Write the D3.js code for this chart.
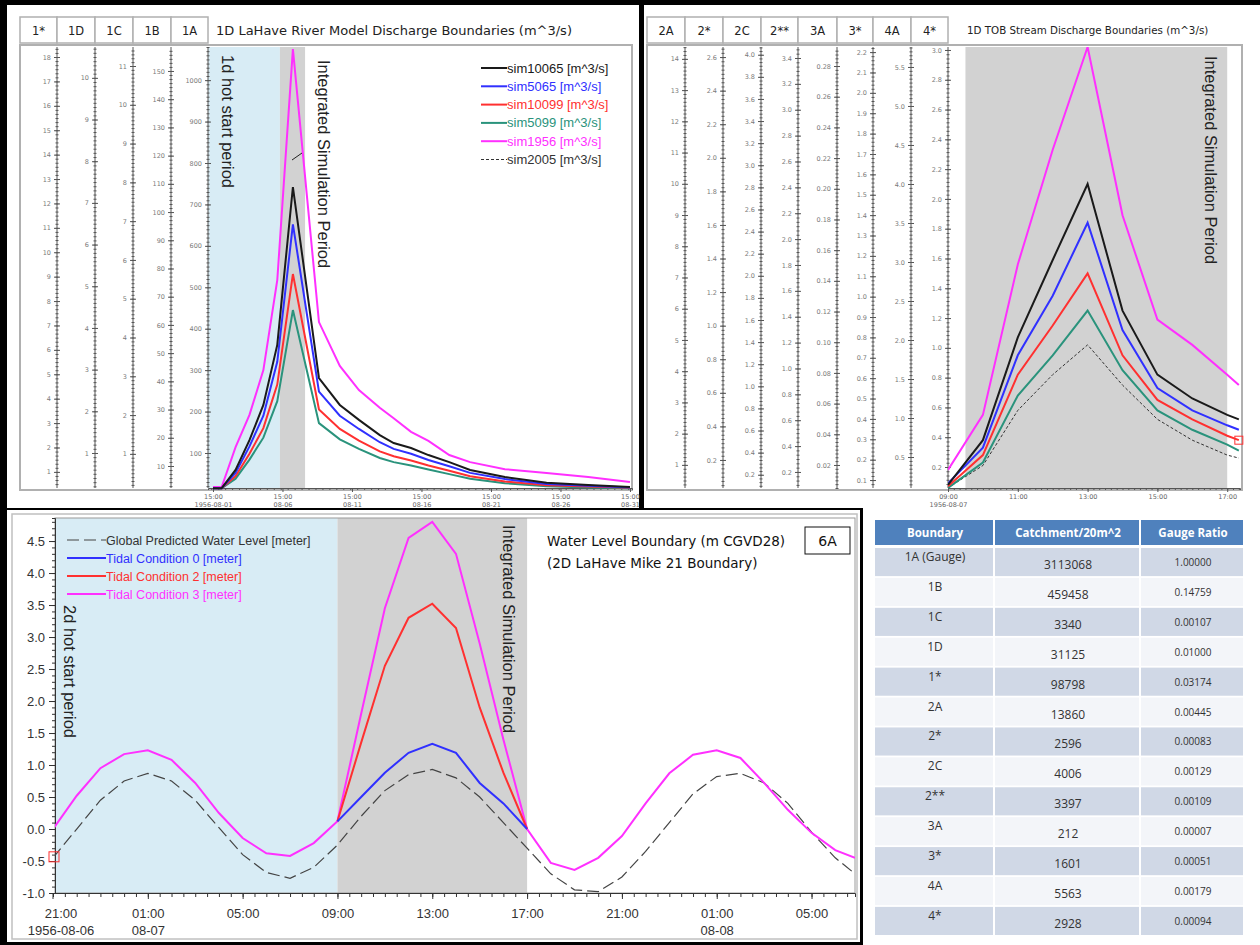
<!DOCTYPE html>
<html>
<head>
<meta charset="utf-8">
<script src="https://cdn.jsdelivr.net/npm/d3@7"></script>
<style>
  body { margin: 0; background: #fff; }
  svg { display: block; font-family: "Liberation Sans", Arial, sans-serif; }
</style>
</head>
<body>
<svg id="chart" width="1260" height="945"></svg>
<script>
(function () {
  'use strict';

  /* ── 1D LaHave River discharge (values on the 1A axis, m^3/s) ── */
  var riverTimes = ['1956-08-01 15:00', '1956-08-02 06:00', '1956-08-03 06:00', '1956-08-04 06:00',
    '1956-08-05 06:00', '1956-08-06 06:00', '1956-08-07 09:00', '1956-08-09 06:00', '1956-08-10 18:00',
    '1956-08-12 03:00', '1956-08-13 15:00', '1956-08-14 15:00', '1956-08-15 21:00', '1956-08-17 03:00',
    '1956-08-18 15:00', '1956-08-20 03:00', '1956-08-22 15:00', '1956-08-25 15:00', '1956-08-28 15:00',
    '1956-08-31 15:00'];
  var river10065 = [15, 15, 59, 131, 216, 361, 742, 281, 216, 180, 143, 124, 112, 95, 78, 59, 42, 28, 23, 18];
  var river5065  = [15, 15, 52, 116, 190, 320, 652, 248, 190, 158, 126, 110, 98, 83, 68, 52, 37, 25, 21, 17];
  var river10099 = [15, 15, 44, 98, 160, 265, 532, 205, 158, 130, 104, 92, 82, 70, 57, 44, 31, 22, 19, 16];
  var river5099  = [15, 15, 38, 84, 137, 225, 445, 172, 133, 110, 88, 78, 70, 60, 49, 38, 27, 20, 17, 15];
  var river1956  = [18, 18, 114, 192, 300, 517, 1075, 416, 310, 252, 209, 184, 151, 129, 95, 78, 61, 52, 42, 30];

  /* ── 1D TOB stream discharge (values on the 4* axis, m^3/s) ── */
  var tobTimes = ['1956-08-07 09:00', '1956-08-07 10:00', '1956-08-07 11:00', '1956-08-07 12:00',
    '1956-08-07 13:00', '1956-08-07 14:00', '1956-08-07 15:00', '1956-08-07 16:00', '1956-08-07 17:00',
    '1956-08-07 17:20'];
  var tob10065 = [0.08, 0.38, 1.07, 1.59, 2.10, 1.25, 0.82, 0.66, 0.55, 0.52];
  var tob5065  = [0.09, 0.33, 0.95, 1.35, 1.84, 1.12, 0.73, 0.58, 0.48, 0.45];
  var tob10099 = [0.07, 0.28, 0.82, 1.15, 1.50, 0.95, 0.65, 0.52, 0.41, 0.38];
  var tob5099  = [0.06, 0.23, 0.68, 0.95, 1.25, 0.85, 0.58, 0.45, 0.35, 0.31];
  var tob1956  = [0.18, 0.55, 1.56, 2.33, 3.02, 1.89, 1.19, 1.02, 0.82, 0.75];
  var tob2005  = [0.06, 0.21, 0.58, 0.82, 1.02, 0.75, 0.52, 0.38, 0.28, 0.26];

  /* ── Water level boundary (m CGVD28) ── */
  var tideTimes = ['1956-08-06 21:00', '1956-08-06 22:00', '1956-08-06 23:00', '1956-08-07 00:00',
    '1956-08-07 01:00', '1956-08-07 02:00', '1956-08-07 03:00', '1956-08-07 04:00', '1956-08-07 05:00',
    '1956-08-07 06:00', '1956-08-07 07:00', '1956-08-07 08:00', '1956-08-07 09:00', '1956-08-07 10:00',
    '1956-08-07 11:00', '1956-08-07 12:00', '1956-08-07 13:00', '1956-08-07 14:00', '1956-08-07 15:00',
    '1956-08-07 16:00', '1956-08-07 17:00', '1956-08-07 18:00', '1956-08-07 19:00', '1956-08-07 20:00',
    '1956-08-07 21:00', '1956-08-07 22:00', '1956-08-07 23:00', '1956-08-08 00:00', '1956-08-08 01:00',
    '1956-08-08 02:00', '1956-08-08 03:00', '1956-08-08 04:00', '1956-08-08 05:00', '1956-08-08 06:00',
    '1956-08-08 06:50'];
  var tideGlobal = [-0.45, 0.0, 0.45, 0.75, 0.87, 0.75, 0.45, 0.02, -0.4, -0.68, -0.77, -0.6, -0.25,
    0.2, 0.6, 0.85, 0.93, 0.8, 0.5, 0.1, -0.3, -0.7, -0.95, -0.98, -0.75, -0.35, 0.1, 0.55, 0.82,
    0.87, 0.72, 0.4, -0.05, -0.45, -0.7];
  var tide3 = [0.0, 0.52, 0.95, 1.17, 1.23, 1.08, 0.72, 0.25, -0.14, -0.38, -0.42, -0.22, 0.12,
    1.8, 3.45, 4.55, 4.8, 4.3, 2.9, 1.4, 0.0, -0.53, -0.64, -0.45, -0.11, 0.4, 0.87, 1.16, 1.23,
    1.11, 0.72, 0.3, -0.06, -0.33, -0.45];
  var simTimes = ['1956-08-07 09:00', '1956-08-07 10:00', '1956-08-07 11:00', '1956-08-07 12:00',
    '1956-08-07 13:00', '1956-08-07 14:00', '1956-08-07 15:00', '1956-08-07 16:00', '1956-08-07 17:00'];
  var tide0 = [0.12, 0.5, 0.88, 1.19, 1.33, 1.19, 0.72, 0.4, 0.0];
  var tide2 = [0.12, 1.35, 2.55, 3.3, 3.52, 3.14, 1.9, 0.88, 0.0];

  /* ── Catchment table ── */
  var boundaries = ['1A (Gauge)', '1B', '1C', '1D', '1*', '2A', '2*', '2C', '2**', '3A', '3*', '4A', '4*'];
  var catchments = ['3113068', '459458', '3340', '31125', '98798', '13860', '2596', '4006', '3397',
    '212', '1601', '5563', '2928'];
  var ratios = ['1.00000', '0.14759', '0.00107', '0.01000', '0.03174', '0.00445', '0.00083', '0.00129',
    '0.00109', '0.00007', '0.00051', '0.00179', '0.00094'];

  /* ── Stacked boundary axes: name, visible range, tick step ── */
  var riverAxisNames = ['1*', '1D', '1C', '1B', '1A'];
  var riverAxisLo    = [0.34, 0.16, 0.12, 2.2, 15.5];
  var riverAxisHi    = [18.41, 10.74, 11.49, 158.5, 1080];
  var riverAxisStep  = [1, 1, 1, 10, 100];

  var tobAxisNames = ['2A', '2*', '2C', '2**', '3A', '3*', '4A', '4*'];
  var tobAxisLo    = [0.26, 0.033, 0.08, 0.076, 0.005, 0.061, 0.103, 0.059];
  var tobAxisHi    = [14.38, 2.66, 4.07, 3.485, 0.2924, 2.225, 5.756, 3.02];
  var tobAxisStep  = [1, 0.2, 0.2, 0.2, 0.02, 0.1, 0.5, 0.2];

  var simNames  = ['sim10065', 'sim5065', 'sim10099', 'sim5099', 'sim1956', 'sim2005'];
  var simColors = ['#1a1a1a', '#3030ff', '#ff3030', '#2a937c', '#ff30ff', '#333333'];

  var parse = d3.timeParse('%Y-%m-%d %H:%M');
  var svg = d3.select('#chart');
  var defs = svg.append('defs');

  svg.append('rect').attr('width', 1260).attr('height', 945).attr('fill', '#fff');

  function clip(id, x, y, w, h) {
    defs.append('clipPath').attr('id', id)
      .append('rect').attr('x', x).attr('y', y).attr('width', w).attr('height', h);
    return 'url(#' + id + ')';
  }

  function everyHours(start, step, n) {
    return d3.range(n).map(function (k) { return d3.timeHour.offset(parse(start), step * k); });
  }

  /* Header boxes + one vertical axis per boundary */
  function stackedAxes(g, names, lo, hi, step, edges, yTop, yBot) {
    names.forEach(function (name, i) {
      g.append('rect')
        .attr('x', edges[i]).attr('y', 17)
        .attr('width', edges[i + 1] - edges[i]).attr('height', 26)
        .attr('fill', '#fff').attr('stroke', '#b0b0b0').attr('stroke-width', 1.5);
      g.append('text')
        .attr('x', (edges[i] + edges[i + 1]) / 2).attr('y', 35)
        .attr('text-anchor', 'middle')
        .attr('font-family', 'DejaVu Sans, sans-serif')
        .attr('font-size', 11.5).attr('fill', '#222')
        .text(name);

      var s = d3.scaleLinear().domain([lo[i], hi[i]]).range([yBot, yTop]);
      var st = step[i];
      var dec = st < 0.1 ? 2 : (st < 1 ? 1 : 0);
      var px = Math.abs(s(st) - s(0));
      var nMinor = Math.max(2, Math.round(px / 4));
      var ms = st / nMinor;
      var minors = d3.range(Math.ceil(lo[i] / ms - 1e-9), Math.floor(hi[i] / ms + 1e-9) + 1)
        .map(function (k) { return k * ms; });
      var majors = d3.range(Math.ceil(lo[i] / st - 1e-9), Math.floor(hi[i] / st + 1e-9) + 1)
        .map(function (k) { return k * st; });

      var ax = g.append('g').attr('transform', 'translate(' + edges[i + 1] + ',0)');
      ax.append('line').attr('y1', yTop).attr('y2', yBot)
        .attr('stroke', '#555').attr('stroke-width', 1);

      var minorG = ax.append('g').call(d3.axisLeft(s).tickValues(minors).tickSize(0).tickFormat(''));
      minorG.select('.domain').remove();
      minorG.selectAll('.tick line').attr('x1', -1.5).attr('x2', 1.5).attr('stroke', '#555');

      var majorG = ax.append('g').call(d3.axisLeft(s).tickValues(majors).tickSize(0).tickPadding(6)
        .tickFormat(function (d) { return d.toFixed(dec); }));
      majorG.select('.domain').remove();
      majorG.selectAll('.tick line').attr('x1', -3).attr('x2', 3).attr('stroke', '#555');
      majorG.selectAll('.tick text').attr('font-size', 6.5).attr('fill', '#7a7a7a')
        .attr('font-family', 'DejaVu Sans, sans-serif');
    });
  }

  function simLine(g, x, y, times, values, color, dash, width, clipUrl) {
    var pts = times.map(function (t, k) { return [parse(t), values[k]]; });
    g.append('path')
      .attr('d', d3.line().x(function (d) { return x(d[0]); }).y(function (d) { return y(d[1]); })(pts))
      .attr('fill', 'none')
      .attr('stroke', color)
      .attr('stroke-width', width)
      .attr('stroke-dasharray', dash)
      .attr('clip-path', clipUrl);
  }

  function twoLineLabels(sel, fmtTop, fmtBottom, dy) {
    sel.selectAll('.tick text').each(function (d) {
      var t = d3.select(this);
      t.text(null);
      t.append('tspan').attr('x', 0).attr('dy', '0.71em').text(fmtTop(d));
      t.append('tspan').attr('x', 0).attr('dy', dy).text(fmtBottom(d));
    });
  }

  /* ── Outer black frame ── */
  var frame = svg.append('g').attr('fill', '#000');
  frame.append('rect').attr('x', 0).attr('y', 0).attr('width', 1260).attr('height', 5);
  frame.append('rect').attr('x', 0).attr('y', 0).attr('width', 7).attr('height', 945);
  frame.append('rect').attr('x', 639).attr('y', 0).attr('width', 5).attr('height', 510);
  frame.append('rect').attr('x', 0).attr('y', 508).attr('width', 863).attr('height', 2);
  frame.append('rect').attr('x', 860).attr('y', 508).attr('width', 3).attr('height', 437);
  frame.append('rect').attr('x', 0).attr('y', 942).attr('width', 863).attr('height', 3);

  /* ══ Top-left: 1D LaHave River ══ */
  var tl = svg.append('g');
  var tlEdges = [20, 57, 95, 133, 171, 208];
  var tlTop = 47, tlBot = 488, tlLeft = 208, tlRight = 632;

  var tlX = d3.scaleTime()
    .domain([parse('1956-08-01 06:24'), parse('1956-08-31 18:30')])
    .range([tlLeft, tlRight]);
  var tlY = d3.scaleLinear().domain([riverAxisLo[4], riverAxisHi[4]]).range([tlBot, tlTop]);

  tl.append('rect').attr('x', tlLeft).attr('y', tlTop)
    .attr('width', tlX(parse('1956-08-06 10:30')) - tlLeft).attr('height', tlBot - tlTop)
    .attr('fill', '#d8ecf5');
  tl.append('rect').attr('x', tlX(parse('1956-08-06 10:30'))).attr('y', tlTop)
    .attr('width', tlX(parse('1956-08-08 06:00')) - tlX(parse('1956-08-06 10:30')))
    .attr('height', tlBot - tlTop)
    .attr('fill', '#d2d2d2');

  tl.append('rect').attr('x', 20).attr('y', 45).attr('width', 612).attr('height', 445)
    .attr('fill', 'none').attr('stroke', '#b0b0b0').attr('stroke-width', 2);

  stackedAxes(tl, riverAxisNames, riverAxisLo, riverAxisHi, riverAxisStep, tlEdges, tlTop, tlBot);

  tl.append('text').attr('x', 216).attr('y', 35)
    .attr('font-family', 'DejaVu Sans, sans-serif').attr('font-size', 13).attr('fill', '#222')
    .text('1D LaHave River Model Discharge Boundaries (m^3/s)');

  var tlXMajor = everyHours('1956-08-01 15:00', 120, 7);
  var tlXAxis = tl.append('g').attr('transform', 'translate(0,' + tlBot + ')');
  tlXAxis.call(d3.axisBottom(tlX).ticks(d3.timeHour.every(12)).tickSize(2).tickFormat(''));
  tlXAxis.select('.domain').attr('stroke', '#555');
  tlXAxis.selectAll('.tick line').attr('stroke', '#555');
  var tlXLab = tl.append('g').attr('transform', 'translate(0,' + tlBot + ')');
  tlXLab.call(d3.axisBottom(tlX).tickValues(tlXMajor).tickSize(4).tickPadding(2)
    .tickFormat(d3.timeFormat('%H:%M')));
  tlXLab.select('.domain').remove();
  tlXLab.selectAll('.tick line').attr('stroke', '#555');
  tlXLab.selectAll('.tick text').attr('font-size', 6.5).attr('fill', '#666')
    .attr('font-family', 'DejaVu Sans, sans-serif');
  twoLineLabels(tlXLab, d3.timeFormat('%H:%M'), function (d) {
    return +d === +tlXMajor[0] ? d3.timeFormat('%Y-%m-%d')(d) : d3.timeFormat('%m-%d')(d);
  }, 8);

  var tlClip = clip('tlclip', tlLeft, tlTop, tlRight - tlLeft, tlBot - tlTop + 2);
  var riverSeries = [river10065, river5065, river10099, river5099, river1956];
  [4, 3, 2, 1, 0].forEach(function (k) {
    simLine(tl, tlX, tlY, riverTimes, riverSeries[k], simColors[k], null, 2, tlClip);
  });

  /* legend */
  var leg = tl.append('g').attr('transform', 'translate(481,68)');
  simNames.forEach(function (n, k) {
    var row = leg.append('g').attr('transform', 'translate(0,' + (k * 18.3) + ')');
    row.append('line').attr('x1', 0).attr('x2', 26).attr('y1', 0).attr('y2', 0)
      .attr('stroke', simColors[k]).attr('stroke-width', k === 5 ? 1 : 2)
      .attr('stroke-dasharray', k === 5 ? '3 2' : null);
    row.append('text').attr('x', 26).attr('y', 4.5)
      .attr('font-size', 13).attr('fill', simColors[k])
      .text(n + ' [m^3/s]');
  });

  tl.append('text')
    .attr('transform', 'translate(222,55) rotate(90)')
    .attr('font-size', 16.5).attr('fill', '#222')
    .text('1d hot start period');
  tl.append('text')
    .attr('transform', 'translate(318,60) rotate(90)')
    .attr('font-size', 16.5).attr('fill', '#222')
    .text('Integrated Simulation Period');
  tl.append('line').attr('x1', 292).attr('y1', 160).attr('x2', 302).attr('y2', 153)
    .attr('stroke', '#222').attr('stroke-width', 1);

  /* ══ Top-right: 1D TOB streams ══ */
  var tr = svg.append('g');
  var trEdges = [647, 685, 723, 761, 798, 837, 873, 911, 948];
  var trTop = 47, trBot = 488, trLeft = 948, trRight = 1240;

  var trX = d3.scaleTime()
    .domain([parse('1956-08-07 09:00'), parse('1956-08-07 17:22')])
    .range([trLeft, trRight]);
  var trY = d3.scaleLinear().domain([tobAxisLo[7], tobAxisHi[7]]).range([trBot, trTop]);

  tr.append('rect').attr('x', trX(parse('1956-08-07 09:30'))).attr('y', trTop)
    .attr('width', trX(parse('1956-08-07 17:00')) - trX(parse('1956-08-07 09:30')))
    .attr('height', trBot - trTop)
    .attr('fill', '#d2d2d2');

  tr.append('rect').attr('x', 647).attr('y', 45).attr('width', 595).attr('height', 445)
    .attr('fill', 'none').attr('stroke', '#b0b0b0').attr('stroke-width', 2);

  stackedAxes(tr, tobAxisNames, tobAxisLo, tobAxisHi, tobAxisStep, trEdges, trTop, trBot);

  tr.append('text').attr('x', 967).attr('y', 34)
    .attr('font-family', 'DejaVu Sans, sans-serif').attr('font-size', 10.3).attr('fill', '#222')
    .text('1D TOB Stream Discharge Boundaries (m^3/s)');

  var trXMajor = everyHours('1956-08-07 09:00', 2, 5);
  var trXAxis = tr.append('g').attr('transform', 'translate(0,' + trBot + ')');
  trXAxis.call(d3.axisBottom(trX).ticks(d3.timeMinute.every(10)).tickSize(2).tickFormat(''));
  trXAxis.select('.domain').attr('stroke', '#555');
  trXAxis.selectAll('.tick line').attr('stroke', '#555');
  var trXLab = tr.append('g').attr('transform', 'translate(0,' + trBot + ')');
  trXLab.call(d3.axisBottom(trX).tickValues(trXMajor).tickSize(4).tickPadding(2)
    .tickFormat(d3.timeFormat('%H:%M')));
  trXLab.select('.domain').remove();
  trXLab.selectAll('.tick line').attr('stroke', '#555');
  trXLab.selectAll('.tick text').attr('font-size', 6.5).attr('fill', '#666')
    .attr('font-family', 'DejaVu Sans, sans-serif');
  twoLineLabels(trXLab, d3.timeFormat('%H:%M'), function (d) {
    return +d === +trXMajor[0] ? d3.timeFormat('%Y-%m-%d')(d) : '';
  }, 8);

  var trClip = clip('trclip', trLeft, trTop, trRight - trLeft, trBot - trTop + 2);
  var tobSeries = [tob10065, tob5065, tob10099, tob5099, tob1956, tob2005];
  [5, 4, 3, 2, 1, 0].forEach(function (k) {
    simLine(tr, trX, trY, tobTimes, tobSeries[k], simColors[k], k === 5 ? '3 2' : null, k === 5 ? 1 : 2, trClip);
  });
  var lastT = parse(tobTimes[tobTimes.length - 1]);
  tr.append('rect')
    .attr('x', trX(lastT) - 4).attr('y', trY(tob10099[tob10099.length - 1]) - 4)
    .attr('width', 8).attr('height', 8)
    .attr('fill', 'none').attr('stroke', '#ff3030').attr('stroke-width', 1);

  tr.append('text')
    .attr('transform', 'translate(1205,56) rotate(90)')
    .attr('font-size', 16.5).attr('fill', '#222')
    .text('Integrated Simulation Period');

  /* ══ Bottom: water level boundary ══ */
  var bt = svg.append('g');
  var btTop = 518, btBot = 893, btLeft = 55, btRight = 855;
  var btX = d3.scaleTime()
    .domain([parse('1956-08-06 21:00'), parse('1956-08-08 06:50')])
    .range([53, btRight]);
  var btY = d3.scaleLinear().domain([-1.0, 4.86]).range([btBot, btTop]);

  bt.append('rect').attr('x', 12).attr('y', 514).attr('width', 845).attr('height', 425)
    .attr('fill', 'none').attr('stroke', '#c0c0c0').attr('stroke-width', 1.5);

  bt.append('rect').attr('x', btLeft).attr('y', btTop)
    .attr('width', btX(parse('1956-08-07 09:00')) - btLeft).attr('height', btBot - btTop)
    .attr('fill', '#d8ecf5');
  bt.append('rect').attr('x', btX(parse('1956-08-07 09:00'))).attr('y', btTop)
    .attr('width', btX(parse('1956-08-07 17:00')) - btX(parse('1956-08-07 09:00')))
    .attr('height', btBot - btTop)
    .attr('fill', '#d2d2d2');
  bt.append('rect').attr('x', btLeft).attr('y', btTop).attr('width', btRight - btLeft)
    .attr('height', btBot - btTop)
    .attr('fill', 'none').attr('stroke', '#9a9a9a').attr('stroke-width', 1);

  var yMinor = bt.append('g').attr('transform', 'translate(' + btLeft + ',0)')
    .call(d3.axisLeft(btY).tickValues(d3.range(-10, 49).map(function (k) { return k / 10; }))
      .tickSize(3).tickFormat(''));
  yMinor.select('.domain').attr('stroke', '#333');
  yMinor.selectAll('.tick line').attr('stroke', '#333');
  var yMajor = bt.append('g').attr('transform', 'translate(' + btLeft + ',0)')
    .call(d3.axisLeft(btY).tickValues(d3.range(-2, 10).map(function (k) { return k / 2; }))
      .tickSize(6).tickPadding(4).tickFormat(function (d) { return d.toFixed(1); }));
  yMajor.select('.domain').remove();
  yMajor.selectAll('.tick line').attr('stroke', '#333');
  yMajor.selectAll('.tick text').attr('font-size', 13).attr('fill', '#333')
    .attr('font-family', 'Liberation Sans Narrow, Liberation Sans, sans-serif');

  var xMinor = bt.append('g').attr('transform', 'translate(0,' + btBot + ')')
    .call(d3.axisBottom(btX).ticks(d3.timeMinute.every(30)).tickSize(4).tickFormat(''));
  xMinor.select('.domain').attr('stroke', '#333');
  xMinor.selectAll('.tick line').attr('stroke', '#333');
  var btXMajor = everyHours('1956-08-06 21:00', 4, 9);
  var xMajor = bt.append('g').attr('transform', 'translate(0,' + btBot + ')')
    .call(d3.axisBottom(btX).tickValues(btXMajor).tickSize(6).tickPadding(10)
      .tickFormat(d3.timeFormat('%H:%M')));
  xMajor.select('.domain').remove();
  xMajor.selectAll('.tick line').attr('stroke', '#333');
  xMajor.selectAll('.tick text').attr('font-size', 13).attr('fill', '#333')
    .attr('font-family', 'Liberation Sans Narrow, Liberation Sans, sans-serif');
  twoLineLabels(xMajor, d3.timeFormat('%H:%M'), function (d) {
    if (+d === +btXMajor[0]) return d3.timeFormat('%Y-%m-%d')(d);
    return d.getHours() === 1 ? d3.timeFormat('%m-%d')(d) : '';
  }, 17);
  xMajor.selectAll('.tick').filter(function (d) { return +d === +btXMajor[0]; })
    .attr('transform', 'translate(' + (btX(btXMajor[0]) + 8) + ',0)')
    .select('line').attr('transform', 'translate(-8,0)');

  var btClip = clip('btclip', btLeft, btTop, btRight - btLeft, btBot - btTop);
  simLine(bt, btX, btY, tideTimes, tideGlobal, '#444', '12 5', 1.2, btClip);
  simLine(bt, btX, btY, tideTimes, tide3, '#ff30ff', null, 2, btClip);
  simLine(bt, btX, btY, simTimes, tide2, '#ff3030', null, 2, btClip);
  simLine(bt, btX, btY, simTimes, tide0, '#3030ff', null, 2, btClip);
  bt.append('rect')
    .attr('x', btX(parse(tideTimes[0])) - 4).attr('y', btY(tideGlobal[0]) - 6)
    .attr('width', 10).attr('height', 10)
    .attr('fill', 'none').attr('stroke', '#ff3030').attr('stroke-width', 1);

  var tideNames  = ['Global Predicted Water Level [meter]', 'Tidal Condition 0 [meter]',
    'Tidal Condition 2 [meter]', 'Tidal Condition 3 [meter]'];
  var tideColors = ['#444', '#3030ff', '#ff3030', '#ff30ff'];
  var tleg = bt.append('g').attr('transform', 'translate(67,540)');
  tideNames.forEach(function (n, k) {
    var row = tleg.append('g').attr('transform', 'translate(0,' + (k * 18) + ')');
    row.append('line').attr('x1', 0).attr('x2', 39).attr('y1', 0).attr('y2', 0)
      .attr('stroke', tideColors[k]).attr('stroke-width', k === 0 ? 1.2 : 2)
      .attr('stroke-dasharray', k === 0 ? '12 5' : null);
    row.append('text').attr('x', 39).attr('y', 4.5)
      .attr('font-size', 12.5).attr('fill', k === 0 ? '#333' : tideColors[k])
      .text(n);
  });

  bt.append('text').attr('x', 547).attr('y', 546)
    .attr('font-family', 'DejaVu Sans, sans-serif').attr('font-size', 13.5).attr('fill', '#111')
    .text('Water Level Boundary (m CGVD28)');
  bt.append('text').attr('x', 547).attr('y', 568)
    .attr('font-family', 'DejaVu Sans, sans-serif').attr('font-size', 13.5).attr('fill', '#111')
    .text('(2D LaHave Mike 21 Boundary)');
  bt.append('rect').attr('x', 805).attr('y', 527).attr('width', 45).attr('height', 27)
    .attr('fill', '#fff').attr('stroke', '#111').attr('stroke-width', 1);
  bt.append('text').attr('x', 827.5).attr('y', 546).attr('text-anchor', 'middle')
    .attr('font-family', 'DejaVu Sans, sans-serif').attr('font-size', 14).attr('fill', '#111')
    .text('6A');

  bt.append('text')
    .attr('transform', 'translate(64,605) rotate(90)')
    .attr('font-size', 16.5).attr('fill', '#222')
    .text('2d hot start period');
  bt.append('text')
    .attr('transform', 'translate(503,525) rotate(90)')
    .attr('font-size', 16.5).attr('fill', '#222')
    .text('Integrated Simulation Period');

  /* ══ Catchment table ══ */
  var tb = svg.append('g').attr('font-family', 'Open Sans, sans-serif');
  var colX = [875, 995, 1141, 1245];
  var headers = ['Boundary', 'Catchment/20m^2', 'Gauge Ratio'];
  var rowY = d3.scaleBand().domain(d3.range(boundaries.length)).range([548, 935]).paddingInner(0.06);

  headers.forEach(function (h, c) {
    tb.append('rect').attr('x', colX[c]).attr('y', 520)
      .attr('width', colX[c + 1] - colX[c] - 2).attr('height', 25)
      .attr('fill', '#4f81bd');
    tb.append('text').attr('x', (colX[c] + colX[c + 1]) / 2).attr('y', 537)
      .attr('text-anchor', 'middle').attr('font-size', 11.5).attr('font-weight', 'bold')
      .attr('fill', '#fff').text(h);
  });

  boundaries.forEach(function (b, r) {
    var y = rowY(r), h = rowY.bandwidth();
    var cells = [b, catchments[r], ratios[r]];
    cells.forEach(function (v, c) {
      tb.append('rect').attr('x', colX[c]).attr('y', y)
        .attr('width', colX[c + 1] - colX[c] - 2).attr('height', h)
        .attr('fill', r % 2 === 0 ? '#d0d8e6' : '#f3f5f9');
      tb.append('text').attr('x', (colX[c] + colX[c + 1]) / 2)
        .attr('y', y + (c === 0 ? 13 : (c === 1 ? 21 : 18)))
        .attr('text-anchor', 'middle')
        .attr('font-size', c === 2 ? 10 : 12).attr('fill', '#333')
        .text(v);
    });
  });
})();
</script>
</body>
</html>
